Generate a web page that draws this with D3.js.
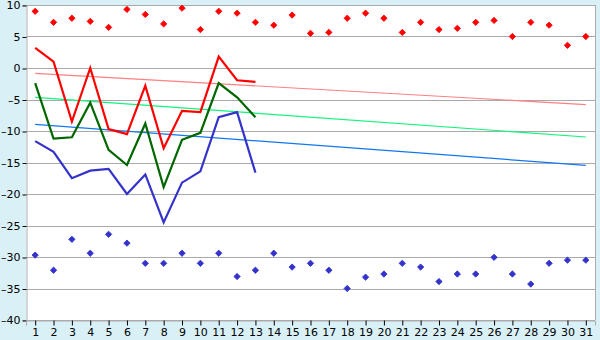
<!DOCTYPE html>
<html>
<head>
<meta charset="utf-8">
<script src="https://cdn.jsdelivr.net/npm/d3@7"></script>
<style>
  body { margin: 0; background: #d9f0f7; }
  svg { display: block; }
  text { font-family: "DejaVu Sans", Verdana, sans-serif; font-size: 11px; fill: #000; }
</style>
</head>
<body>
<script>
// categories (days)
var days = d3.range(1, 32);
var yTicks = [10, 5, 0, -5, -10, -15, -20, -25, -30, -35, -40];

// daily high / low points
var highPts = [9.0, 7.25, 7.9, 7.4, 6.45, 9.3, 8.5, 7.0, 9.5, 6.1, 9.0, 8.7, 7.25, 6.8, 8.4, 5.5,
               5.65, 7.9, 8.7, 7.9, 5.65, 7.25, 6.1, 6.3, 7.25, 7.55, 5.0, 7.25, 6.8, 3.6, 5.0];
var lowPts = [-29.7, -32.1, -27.2, -29.4, -26.4, -27.8, -31.0, -31.0, -29.4, -31.0, -29.4, -33.1,
              -32.1, -29.4, -31.6, -31.0, -32.1, -35.0, -33.2, -32.7, -31.0, -31.6, -33.9, -32.7,
              -32.7, -30.05, -32.7, -34.3, -31.0, -30.5, -30.5];

// current month lines (13 days)
var redLine = [3.2, 1.0, -8.5, 0.0, -9.7, -10.5, -2.8, -12.75, -6.8, -7.0, 1.8, -1.95, -2.2];
var greenLine = [-2.4, -11.2, -11.0, -5.5, -13.0, -15.4, -8.8, -18.9, -11.4, -10.3, -2.4, -4.65, -7.8];
var blueLine = [-11.6, -13.3, -17.5, -16.3, -16.0, -20.0, -16.9, -24.5, -18.2, -16.4, -7.8, -7.0, -16.6];

// normal lines: value at day 1 and at day 31
var trendRed = [-0.85, -5.8];
var trendGreen = [-4.65, -10.95];
var trendBlue = [-8.95, -15.45];

var W = 600, H = 340;
var margin = {left: 26, right: 5, top: 5, bottom: 20};

var svg = d3.select("body").append("svg")
    .attr("width", W)
    .attr("height", H);

var x = d3.scalePoint()
    .domain(days)
    .range([margin.left, W - margin.right])
    .padding(0.5);

var y = d3.scaleLinear()
    .domain([-40, 10])
    .range([H - margin.bottom, margin.top]);

svg.append("rect")
    .attr("x", margin.left)
    .attr("y", margin.top)
    .attr("width", W - margin.right - margin.left)
    .attr("height", H - margin.bottom - margin.top)
    .attr("fill", "#fff");

// grid
svg.append("g")
    .selectAll("line")
    .data(yTicks)
    .enter().append("line")
    .attr("x1", margin.left)
    .attr("x2", W - margin.right)
    .attr("y1", function(d) { return Math.round(y(d)) + 0.5; })
    .attr("y2", function(d) { return Math.round(y(d)) + 0.5; })
    .attr("stroke", "#aaa");

// right border
svg.append("line")
    .attr("x1", W - margin.right + 0.5).attr("x2", W - margin.right + 0.5)
    .attr("y1", margin.top).attr("y2", H - margin.bottom)
    .attr("stroke", "#aaa");

var fmt = function(d) { return d < 0 ? "\u2013" + Math.abs(d) : String(d); };

var yAxis = svg.append("g")
    .attr("transform", "translate(" + (margin.left + 0.5) + ",0)")
    .call(d3.axisLeft(y).tickValues(yTicks).tickSize(4).tickPadding(2).tickFormat(fmt));
yAxis.select(".domain").attr("stroke", "#aaa");
yAxis.selectAll(".tick line").attr("stroke", "#000")
    .attr("transform", function() { return "translate(0,0.5)"; });
yAxis.selectAll("text").style("font-size", "11px").attr("font-family", null);

var xAxis = svg.append("g")
    .attr("transform", "translate(0," + (Math.round(y(-40)) + 0.5) + ")")
    .call(d3.axisBottom(x).tickSize(5).tickPadding(3));
xAxis.select(".domain").attr("stroke", "#aaa");
xAxis.selectAll(".tick line").attr("stroke", "#000");
xAxis.selectAll("text").style("font-size", "11px").attr("font-family", null);

// normal (trend) lines
function trend(vals, color) {
    svg.append("line")
        .attr("x1", x(1)).attr("x2", x(31))
        .attr("y1", y(vals[0])).attr("y2", y(vals[1]))
        .attr("stroke", color)
        .attr("stroke-width", 1.2);
}
trend(trendRed, "#ff8080");
trend(trendGreen, "#11f57a");
trend(trendBlue, "#1177ee");

var line = d3.line()
    .x(function(d, i) { return x(days[i]); })
    .y(function(d) { return y(d); });

function series(vals, color) {
    svg.append("path")
        .datum(vals)
        .attr("d", line)
        .attr("fill", "none")
        .attr("stroke", color)
        .attr("stroke-width", 2.2)
        .attr("stroke-linejoin", "miter");
}
series(blueLine, "#3333cc");
series(greenLine, "#006600");
series(redLine, "#ff0000");

// small square diamond markers
var sym = d3.symbol().type(d3.symbolSquare).size(20);

function points(vals, color) {
    svg.append("g")
        .selectAll("path")
        .data(vals)
        .enter().append("path")
        .attr("transform", function(d, i) { return "translate(" + x(days[i]) + "," + y(d) + ") rotate(45)"; })
        .attr("d", sym)
        .attr("fill", color)
        .attr("stroke", color)
        .attr("stroke-width", 0.8);
}
points(highPts, "#ff0000");
points(lowPts, "#3333cc");
</script>
</body>
</html>
